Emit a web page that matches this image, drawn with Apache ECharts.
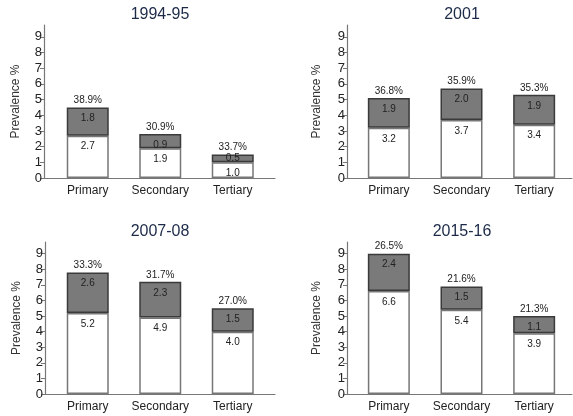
<!DOCTYPE html>
<html>
<head>
<meta charset="utf-8">
<script src="https://cdn.jsdelivr.net/npm/echarts@6/dist/echarts.min.js"></script>
<style>
  html, body { margin: 0; padding: 0; background: #fff; }
  #chart { width: 573px; height: 416px; }
</style>
</head>
<body>
<div id="chart"></div>
<script>
// ---- data ----
const categories = ['Primary', 'Secondary', 'Tertiary'];
const panelTitles = ['1994-95', '2001', '2007-08', '2015-16'];
const yTicks = [0, 1, 2, 3, 4, 5, 6, 7, 8, 9];

// white (lower) part of each bar
const lowerValues = [
    [2.7, 1.9, 1.0],
    [3.2, 3.7, 3.4],
    [5.2, 4.9, 4.0],
    [6.6, 5.4, 3.9]
];
// grey (upper) part of each bar
const upperValues = [
    [1.8, 0.9, 0.5],
    [1.9, 2.0, 1.9],
    [2.6, 2.3, 1.5],
    [2.4, 1.5, 1.1]
];
// share label shown above each bar
const shareLabels = [
    ['38.9%', '30.9%', '33.7%'],
    ['36.8%', '35.9%', '35.3%'],
    ['33.3%', '31.7%', '27.0%'],
    ['26.5%', '21.6%', '21.3%']
];

// ---- layout ----
const FONT = 'Liberation Sans, Arial, sans-serif';
const Y_MAX = 9.75;
// frame grid carries the axis lines, bar grid carries the bars/categories
const frameGrids = [
    { left: 44, top: 25, width: 231, height: 153 },
    { left: 347, top: 25, width: 225, height: 153 },
    { left: 45, top: 242, width: 230, height: 152 },
    { left: 347, top: 242, width: 225, height: 152 }
];
const barGrids = [
    { left: 51.5, top: 25, width: 217.5, height: 153 },
    { left: 352.5, top: 25, width: 218, height: 153 },
    { left: 51.5, top: 242, width: 217.5, height: 152 },
    { left: 352.5, top: 242, width: 218, height: 152 }
];
const titlePos = [[160, 7], [462, 7], [160, 224], [462, 224]];
const nameGaps = [22, 24, 22, 24];

const chart = echarts.init(document.getElementById('chart'));

const grid = [], xAxis = [], yAxis = [], series = [];

panelTitles.forEach((t, p) => {
    const fi = 2 * p, bi = 2 * p + 1;
    grid.push(frameGrids[p], barGrids[p]);

    // frame axes
    xAxis.push({
        type: 'value', gridIndex: fi, min: 0, max: 1, show: true,
        splitLine: { show: false }, axisTick: { show: false }, axisLabel: { show: false },
        axisLine: { show: true, onZero: false, lineStyle: { color: '#777', width: 1.2 } }
    });
    yAxis.push({
        type: 'value', gridIndex: fi, min: 0, max: Y_MAX,
        name: 'Prevalence %', nameLocation: 'middle', nameGap: nameGaps[p],
        nameTextStyle: { fontSize: 12, color: '#333', fontFamily: FONT },
        splitLine: { show: false },
        axisLine: { show: true, onZero: false, lineStyle: { color: '#777', width: 1.2 } },
        axisTick: { show: true, customValues: yTicks, length: 4, lineStyle: { color: '#777' } },
        axisLabel: { customValues: yTicks, margin: 2, fontSize: 13, color: '#222', fontFamily: FONT }
    });

    // bar axes
    xAxis.push({
        type: 'category', gridIndex: bi, data: categories,
        axisLine: { show: false }, axisTick: { show: false },
        axisLabel: { interval: 0, margin: 7, fontSize: 12, color: '#222', fontFamily: FONT }
    });
    yAxis.push({ type: 'value', gridIndex: bi, min: 0, max: Y_MAX, show: false, splitLine: { show: false } });

    const stack = 'panel' + p;
    series.push({
        type: 'bar', xAxisIndex: bi, yAxisIndex: bi, stack: stack, barWidth: 42,
        data: lowerValues[p],
        itemStyle: { color: '#ffffff', borderColor: '#777', borderWidth: 1.5 },
        label: {
            show: true, position: 'insideTop', distance: 6,
            formatter: d => d.value.toFixed(1), fontSize: 10, color: '#222'
        }
    });
    series.push({
        type: 'bar', xAxisIndex: bi, yAxisIndex: bi, stack: stack, barWidth: 42,
        data: upperValues[p].map(v => ({
            value: v,
            label: v < 0.8 ? { position: 'inside' } : undefined
        })),
        itemStyle: { color: '#7a7a7a', borderColor: '#3a3a3a', borderWidth: 1.5 },
        label: {
            show: true, position: 'insideTop', distance: 6,
            formatter: d => d.value.toFixed(1), fontSize: 10, color: '#222'
        }
    });
    // zero-height bar on top of the stack carries the share label
    series.push({
        type: 'bar', xAxisIndex: bi, yAxisIndex: bi, stack: stack, barWidth: 42,
        data: shareLabels[p].map(() => 0),
        itemStyle: { color: 'rgba(0,0,0,0)', borderWidth: 0 },
        label: {
            show: true, position: 'top', distance: 2,
            formatter: d => shareLabels[p][d.dataIndex], fontSize: 10, color: '#222'
        }
    });
});

chart.setOption({
    animation: false,
    textStyle: { fontFamily: FONT },
    title: panelTitles.map((t, i) => ({
        text: t, left: titlePos[i][0], top: titlePos[i][1], textAlign: 'center', padding: 0,
        textStyle: { fontSize: 16, fontWeight: 'normal', color: '#1c2a48', fontFamily: FONT }
    })),
    grid: grid,
    xAxis: xAxis,
    yAxis: yAxis,
    series: series
});
</script>
</body>
</html>
